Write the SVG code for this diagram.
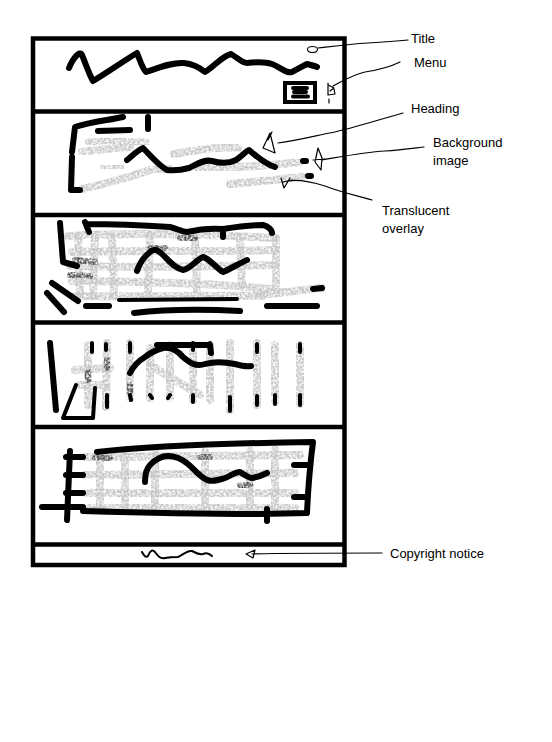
<svg xmlns="http://www.w3.org/2000/svg" width="552" height="742" viewBox="0 0 552 742">
<style>
.frame{fill:none;stroke:#000;stroke-width:4.5}
.ink{fill:none;stroke:#000;stroke-width:6;stroke-linecap:round;stroke-linejoin:round}
.ink4{fill:none;stroke:#000;stroke-width:4;stroke-linecap:round;stroke-linejoin:round}
.thin{fill:none;stroke:#000;stroke-width:1.2;stroke-linecap:round;stroke-linejoin:round}
.pen{fill:none;stroke:#000;stroke-width:2;stroke-linecap:round;stroke-linejoin:round}
.gray{fill:none;stroke:#c6c6c6;stroke-width:8;stroke-linecap:round;stroke-linejoin:round;filter:url(#grain)}
.grayd{fill:none;stroke:#555;stroke-width:6;stroke-linecap:round;filter:url(#grain)}
.lbl{font-family:"Liberation Sans",Arial,sans-serif;font-size:13px;fill:#000}
</style>
<defs>
<filter id="grain" x="-20%" y="-50%" width="140%" height="200%">
<feTurbulence type="fractalNoise" baseFrequency="0.45" numOctaves="3" seed="7" result="n"/>
<feColorMatrix in="n" type="matrix" values="0 0 0 0 0  0 0 0 0 0  0 0 0 0 0  0 0 0 -2.2 1.7" result="a"/>
<feComposite in="SourceGraphic" in2="a" operator="in"/>
</filter>
</defs>
<rect width="552" height="742" fill="#fff"/>

<g id="frame">
<rect class="frame" x="33" y="38.5" width="311.5" height="526.5"/>
<line class="frame" x1="33" y1="111.5" x2="344.5" y2="111.5"/>
<line class="frame" x1="33" y1="215" x2="344.5" y2="215"/>
<line class="frame" x1="33" y1="322.5" x2="344.5" y2="322.5"/>
<line class="frame" x1="33" y1="427" x2="344.5" y2="427"/>
<line class="frame" x1="33" y1="544.5" x2="344.5" y2="544.5"/>
</g>

<g id="header">
<path class="ink" d="M69,68 C73,58 80,50 82,55 C85,62 89,74 93,81 C105,74 125,60 137,53 C140,60 142,68 146,72 C158,68 172,62 184,63 C194,64 200,68 205,72 C215,66 222,56 231,54 C238,58 242,63 247,63 C256,62 266,62 272,64 C280,67 287,74 292,72 C298,69 303,66 307,64 C311,65 315,66 317,67"/>
<ellipse class="thin" cx="312.5" cy="49.5" rx="5" ry="3"/>
<rect x="285" y="83" width="30" height="19" fill="none" stroke="#000" stroke-width="4"/>
<path class="ink4" d="M293,88 L307,88 M294,92 L306,92 M293,96.5 L308,96.5"/>
<path class="thin" d="M328,85 L334,88 L330,91 M328,83 L328,95 L335,94 L334,89 M329,99 L329,103"/>
</g>

<g id="hero">
<path class="gray" d="M89,142 C105,139 128,140 146,143"/>
<path class="gray" d="M82,152 C100,149 118,148 130,147"/>
<path class="gray" d="M174,154 C195,150 220,146 238,148"/>
<path class="gray" d="M104,168 C110,167 116,166 120,167"/>
<path class="gray" d="M82,189 C105,184 130,177 150,170 C160,168 166,170 170,169"/>
<path class="gray" d="M198,168 C230,168 265,166 300,162"/>
<path class="gray" d="M230,184 C252,182 275,180 302,177"/>
<path class="grayd" d="M205,147 L215,147"/>
<path class="ink" d="M123,117 C110,120 90,122 75,127 L72,152 M72,157 L71,190 L80,190"/>
<path class="ink" d="M98,131 L130,130"/>
<path class="ink" d="M148,117 L148,129"/>
<path class="ink" d="M127,160 C133,155 138,150 143,148 C150,155 158,165 167,170 C175,171 182,170 189,168 C197,164 205,159 212,161 C222,164 230,163 236,160 C242,156 246,151 249,150 C255,155 260,160 270,165 L275,167"/>
<path class="ink" d="M303,161 L306,161 M308,176 L311,176"/>
<path class="thin" d="M270,133 L263,148 L275,153 Z M268,140 L272,132"/>
<path class="thin" d="M318,148 L315,162 L321,170 L322,158 Z M313,160 L325,159"/>
<path class="thin" d="M281,178 L284,188 L290,178 M283,182 L292,180"/>
</g>

<g id="features">
<path class="gray" d="M68,236 C120,233 200,234 276,238 M72,252 C130,250 200,252 275,250 M70,266 C140,268 210,266 275,265 M72,281 C140,282 220,283 277,290 M75,296 C150,297 230,295 262,296"/>
<path class="gray" d="M78,236 L80,295 M95,237 L93,296 M112,237 L114,296 M150,235 L148,293 M195,238 L197,290 M240,238 L242,285 M276,240 L276,285"/>
<path class="gray" d="M258,295 C280,293 300,290 322,288"/>
<path class="grayd" d="M75,260 L95,262 M70,275 L90,276 M150,248 L165,248 M180,238 L195,238"/>
<path class="ink" d="M60,223 L63,262 L77,266"/>
<path class="ink" d="M85,222 L89,232 M86,224 C110,224 140,225 170,227 C178,229 182,232 187,232 C200,229 210,228 223,229 L223,237 M223,229 C235,227 250,225 263,225 C268,226 272,230 272,233"/>
<path class="ink" d="M137,271 C140,262 145,256 150,252 C154,248 158,250 163,255 C170,262 176,269 183,270 C190,269 196,260 203,257 C210,259 216,268 223,272 C232,268 240,263 247,260"/>
<path class="ink" d="M52,283 L78,301 M47,293 L64,312"/>
<path class="ink" d="M86,306 L109,306"/>
<path class="ink4" d="M119,300 L237,299"/>
<path class="ink" d="M134,313 C160,310 200,309 240,311"/>
<path class="ink" d="M267,306 L317,306 M313,289 L322,288"/>
</g>

<g id="gallery">
<path class="gray" d="M88,345 L88,405 M107,343 L106,407 M130,343 L130,398 M150,348 L150,398 M170,345 L170,398 M193,345 L193,400 M210,345 L210,400 M230,343 L230,410 M257,343 L257,405 M275,345 L275,402 M300,345 L300,404"/>
<path class="gray" d="M75,370 L110,368 M80,385 L105,385 M150,365 L200,395"/>
<path class="grayd" d="M88,372 L88,380 M107,360 L107,368 M130,385 L130,392"/>
<path class="ink" d="M50,343 L56,410"/>
<path class="ink4" d="M63,418 L76,385 M63,418 L93,418 L95,388 M92,352 L92,343"/>
<path class="ink4" d="M106,344 L106,350 M107,395 L107,407 M130,343 L130,352 M130,395 L131,400 M150,395 L152,398 M170,395 L168,398 M193,343 L193,350 M193,395 L193,402 M210,343 L210,353 M230,397 L230,411 M257,344 L257,352 M257,396 L257,405 M275,395 L275,404 M300,344 L300,352 M300,395 L300,405"/>
<path class="ink" d="M130,373 C134,365 140,360 145,357 C150,353 156,350 163,348 C170,347 177,350 183,357 C190,363 196,367 205,364 C215,361 225,362 235,364 C242,366 247,367 251,366"/>
<path class="ink" d="M157,345 L210,345 L211,353"/>
</g>

<g id="content">
<path class="gray" d="M85,457 L300,455 M85,475 L295,473 M85,493 L295,493 M90,508 L295,508"/>
<path class="gray" d="M100,455 L100,510 M125,455 L125,510 M155,452 L155,512 M205,452 L205,510 M250,450 L250,510 M275,450 L275,512"/>
<path class="grayd" d="M95,458 L110,458 M200,457 L210,457 M240,485 L250,485"/>
<path class="ink" d="M97,452 C150,446 240,443 313,442 C310,465 308,490 307,513 L260,514 C200,514 150,513 83,511"/>
<path class="ink" d="M70,451 L67,520"/>
<path class="ink" d="M66,457 L83,457 M66,475 L83,475 M66,493 L83,493 M42,507 L83,507"/>
<path class="ink" d="M294,465 L307,465 M294,497 L307,497"/>
<path class="ink" d="M267,509 L267,521"/>
<path class="ink" d="M145,482 C145,475 146,469 150,465 C156,459 162,456 168,456 C175,456 182,459 188,464 C195,470 200,477 207,480 C214,482 219,480 225,478 C230,476 235,472 240,472 C245,475 248,478 252,478 C258,477 263,475 267,473"/>
</g>

<g id="footer">
<path class="pen" d="M142,552 C144,556 146,558 148,556 C150,551 152,549 155,552 C158,556 160,559 165,558 C170,557 174,557 178,557 C183,555 187,550 192,551 C196,553 199,555 203,554 C207,552 210,554 212,556"/>
<path class="thin" d="M246,554 L255,550 L253,558 Z"/>
</g>

<g id="connectors">
<path class="thin" d="M318,48 C335,46 350,44 368,43 C385,42 398,41 408,40"/>
<path class="thin" d="M333,86 C345,80 352,75 365,72 C378,70 390,67 400,62"/>
<path class="thin" d="M278,143 C300,140 318,135 335,132 C360,126 385,118 403,113"/>
<path class="thin" d="M322,160 C345,156 365,152 385,151 C400,150 415,148 424,147"/>
<path class="thin" d="M288,181 C300,179 312,182 325,186 C340,192 358,196 372,200"/>
<path class="thin" d="M252,554 C290,553 330,553 382,553"/>
</g>

<g id="labels">
<text class="lbl" x="411" y="43">Title</text>
<text class="lbl" x="414" y="67">Menu</text>
<text class="lbl" x="411" y="113">Heading</text>
<text class="lbl" x="433" y="147">Background</text>
<text class="lbl" x="433" y="165">image</text>
<text class="lbl" x="382" y="215">Translucent</text>
<text class="lbl" x="382" y="233">overlay</text>
<text class="lbl" x="390" y="558">Copyright notice</text>
</g>
</svg>
